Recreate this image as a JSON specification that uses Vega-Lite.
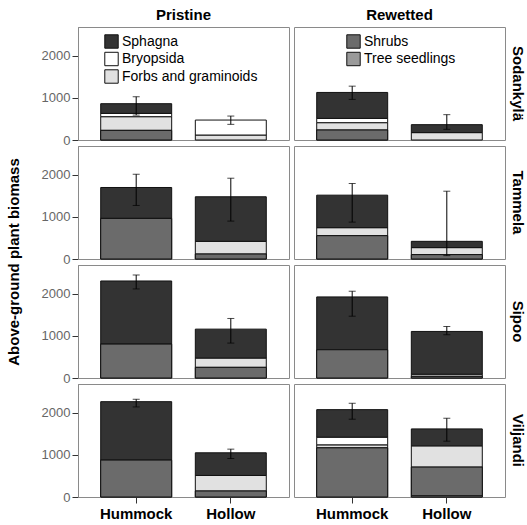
{
  "$schema": "https://vega.github.io/schema/vega-lite/v6.json",
  "padding": {"left": 6, "top": 8, "right": 10, "bottom": 0},
  "background": "white",
  "bounds": "flush",
  "config": {
    "font": "Liberation Sans",
    "view": {"stroke": "#8a8a8a", "strokeWidth": 1},
    "axis": {"grid": false}
  },
  "data": {
    "values": [
      {"site": "Sodankylä", "treatment": "Pristine", "position": "Hummock", "Tree seedlings": 0, "Shrubs": 229, "Forbs and graminoids": 324, "Bryopsida": 78, "Sphagna": 230, "lower": 591, "upper": 1026},
      {"site": "Sodankylä", "treatment": "Pristine", "position": "Hollow", "Tree seedlings": 0, "Shrubs": 0, "Forbs and graminoids": 118, "Bryopsida": 355, "Sphagna": 0, "lower": 371, "upper": 568},
      {"site": "Sodankylä", "treatment": "Rewetted", "position": "Hummock", "Tree seedlings": 0, "Shrubs": 237, "Forbs and graminoids": 174, "Bryopsida": 102, "Sphagna": 615, "lower": 963, "upper": 1277},
      {"site": "Sodankylä", "treatment": "Rewetted", "position": "Hollow", "Tree seedlings": 0, "Shrubs": 0, "Forbs and graminoids": 175, "Bryopsida": 0, "Sphagna": 189, "lower": 253, "upper": 601},
      {"site": "Tammela", "treatment": "Pristine", "position": "Hummock", "Tree seedlings": 0, "Shrubs": 963, "Forbs and graminoids": 0, "Bryopsida": 0, "Sphagna": 733, "lower": 1270, "upper": 2010},
      {"site": "Tammela", "treatment": "Pristine", "position": "Hollow", "Tree seedlings": 0, "Shrubs": 118, "Forbs and graminoids": 301, "Bryopsida": 0, "Sphagna": 1057, "lower": 899, "upper": 1916},
      {"site": "Tammela", "treatment": "Rewetted", "position": "Hummock", "Tree seedlings": 0, "Shrubs": 553, "Forbs and graminoids": 190, "Bryopsida": 0, "Sphagna": 771, "lower": 875, "upper": 1790},
      {"site": "Tammela", "treatment": "Rewetted", "position": "Hollow", "Tree seedlings": 0, "Shrubs": 104, "Forbs and graminoids": 166, "Bryopsida": 0, "Sphagna": 149, "lower": 80, "upper": 1608},
      {"site": "Sipoo", "treatment": "Pristine", "position": "Hummock", "Tree seedlings": 0, "Shrubs": 804, "Forbs and graminoids": 0, "Bryopsida": 0, "Sphagna": 1497, "lower": 2112, "upper": 2443},
      {"site": "Sipoo", "treatment": "Pristine", "position": "Hollow", "Tree seedlings": 0, "Shrubs": 253, "Forbs and graminoids": 220, "Bryopsida": 0, "Sphagna": 686, "lower": 828, "upper": 1412},
      {"site": "Sipoo", "treatment": "Rewetted", "position": "Hummock", "Tree seedlings": 0, "Shrubs": 670, "Forbs and graminoids": 0, "Bryopsida": 0, "Sphagna": 1253, "lower": 1466, "upper": 2058},
      {"site": "Sipoo", "treatment": "Rewetted", "position": "Hollow", "Tree seedlings": 0, "Shrubs": 40, "Forbs and graminoids": 50, "Bryopsida": 0, "Sphagna": 1014, "lower": 1026, "upper": 1222},
      {"site": "Viljandi", "treatment": "Pristine", "position": "Hummock", "Tree seedlings": 0, "Shrubs": 875, "Forbs and graminoids": 0, "Bryopsida": 0, "Sphagna": 1386, "lower": 2136, "upper": 2318},
      {"site": "Viljandi", "treatment": "Pristine", "position": "Hollow", "Tree seedlings": 0, "Shrubs": 142, "Forbs and graminoids": 369, "Bryopsida": 0, "Sphagna": 537, "lower": 913, "upper": 1135},
      {"site": "Viljandi", "treatment": "Rewetted", "position": "Hummock", "Tree seedlings": 0, "Shrubs": 1166, "Forbs and graminoids": 71, "Bryopsida": 182, "Sphagna": 653, "lower": 1845, "upper": 2223},
      {"site": "Viljandi", "treatment": "Rewetted", "position": "Hollow", "Tree seedlings": 30, "Shrubs": 679, "Forbs and graminoids": 504, "Bryopsida": 0, "Sphagna": 402, "lower": 1324, "upper": 1868}
    ]
  },
  "facet": {
    "row": {
      "field": "site", "type": "nominal",
      "sort": ["Sodankylä", "Tammela", "Sipoo", "Viljandi"],
      "header": {
        "title": "Above-ground plant biomass", "titleOrient": "left", "titleAngle": -90,
        "titleFontSize": 15, "titleFontWeight": "bold", "titleColor": "#000", "titlePadding": -6,
        "labelOrient": "right", "labelAngle": 90, "labelFontSize": 15, "labelFontWeight": "bold",
        "labelColor": "#000", "labelPadding": 5
      }
    },
    "column": {
      "field": "treatment", "type": "nominal",
      "header": {
        "title": null, "labelOrient": "top", "labelFontSize": 15, "labelFontWeight": "bold",
        "labelColor": "#000", "labelPadding": 4
      }
    }
  },
  "spacing": {"row": 6, "column": 5},
  "spec": {
    "width": 211,
    "height": 113,
    "encoding": {
      "x": {
        "field": "position", "type": "nominal", "sort": ["Hummock", "Hollow"],
        "scale": {"paddingInner": 0.25, "paddingOuter": 0.24},
        "axis": {
          "title": null, "labelAngle": 0, "labelFontSize": 15, "labelFontWeight": "bold",
          "labelColor": "#000", "tickColor": "#333", "tickSize": 6, "labelPadding": 3,
          "domain": false
        }
      }
    },
    "layer": [
      {
        "transform": [
          {"fold": ["Tree seedlings", "Shrubs", "Forbs and graminoids", "Bryopsida", "Sphagna"], "as": ["group", "biomass"]},
          {"filter": "datum.biomass > 0"}
        ],
        "mark": {"type": "bar", "stroke": "#111", "strokeWidth": 1},
        "encoding": {
          "y": {
            "field": "biomass", "type": "quantitative", "stack": "zero",
            "scale": {"domain": [0, 2680], "nice": false},
            "axis": {
              "title": null, "values": [0, 500, 1000, 1500, 2000, 2500], "format": "d",
              "labelFontSize": 13, "labelColor": "#666", "tickColor": "#333", "tickSize": 6,
              "labelPadding": 2, "domainColor": "#555"
            }
          },
          "order": {"field": "position"},
          "fill": {
            "field": "group", "type": "nominal",
            "scale": {
              "domain": ["Sphagna", "Bryopsida", "Forbs and graminoids", "Shrubs", "Tree seedlings"],
              "range": ["#333333", "#ffffff", "#e1e1e1", "#6b6b6b", "#9a9a9a"]
            },
            "legend": {
              "values": ["Sphagna", "Bryopsida", "Forbs and graminoids"],
              "title": null, "orient": "none", "legendX": 26, "legendY": 7,
              "symbolType": "square", "symbolSize": 180, "symbolStrokeColor": "#111",
              "symbolStrokeWidth": 1, "labelFontSize": 14, "labelColor": "#000",
              "rowPadding": -1.5, "labelOffset": 3
            }
          }
        }
      },
      {
        "transform": [
          {"fold": ["Tree seedlings", "Shrubs"], "as": ["group", "biomass"]},
          {"filter": "datum.biomass > 0"}
        ],
        "mark": {"type": "bar", "stroke": "#111", "strokeWidth": 1},
        "encoding": {
          "y": {"field": "biomass", "type": "quantitative", "stack": "zero", "title": null},
          "order": {"field": "position"},
          "color": {
            "field": "group", "type": "nominal",
            "scale": {"domain": ["Shrubs", "Tree seedlings"], "range": ["#6b6b6b", "#9a9a9a"]},
            "legend": {
              "title": null, "orient": "none", "legendX": 268, "legendY": 7,
              "symbolType": "square", "symbolSize": 180, "symbolStrokeColor": "#111",
              "symbolStrokeWidth": 1, "labelFontSize": 14, "labelColor": "#000",
              "rowPadding": -1.5, "labelOffset": 3
            }
          }
        }
      },
      {
        "mark": {"type": "errorbar", "ticks": {"size": 7, "color": "#000"}, "rule": {"color": "#000", "strokeWidth": 1}},
        "encoding": {
          "y": {"field": "lower", "type": "quantitative", "title": null},
          "y2": {"field": "upper"}
        }
      }
    ]
  }
}
